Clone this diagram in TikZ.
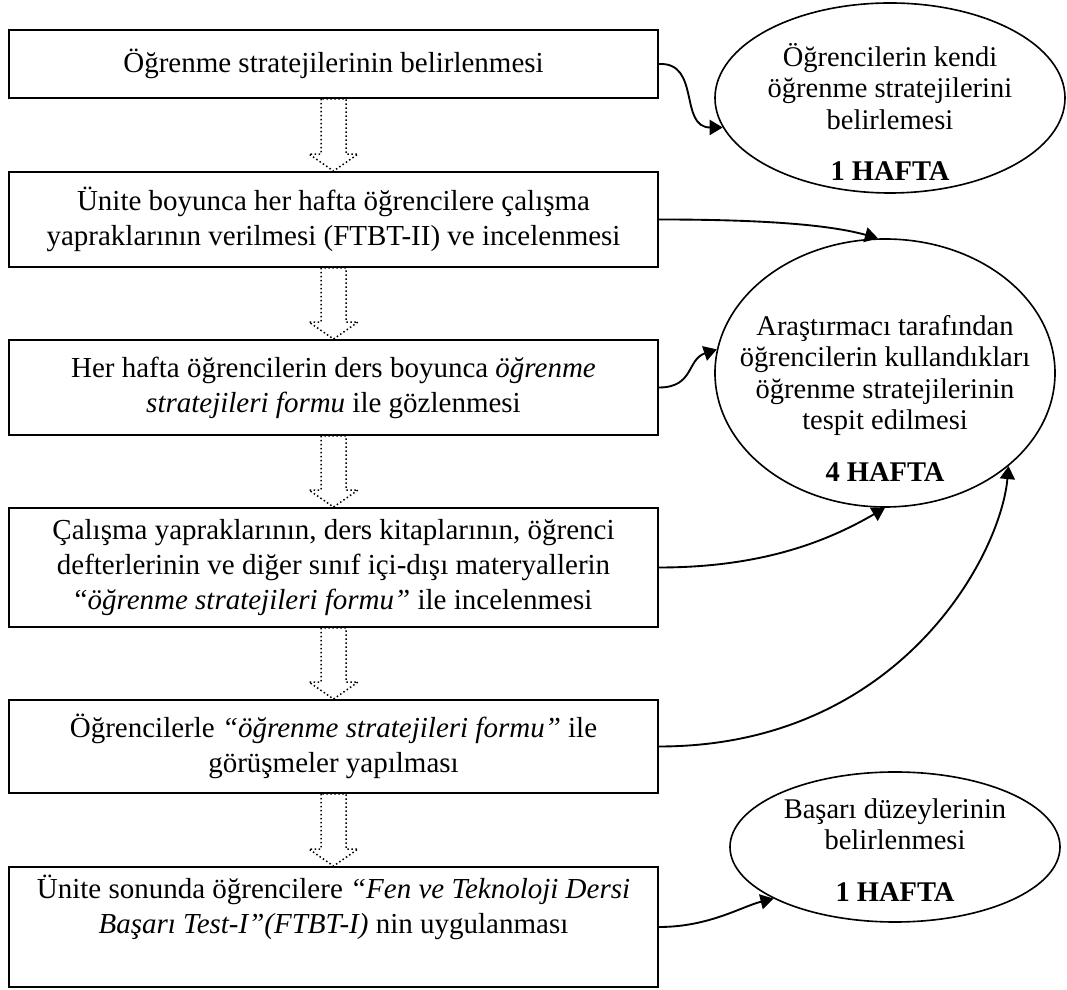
\documentclass[tikz,border=0pt]{standalone}
\usepackage{fontspec}
\setmainfont{Liberation Serif}
\usetikzlibrary{shapes.geometric,arrows.meta,calc}
\newcommand\dotblock[2]{%
  \draw[dotarrow] ($(#1.south)+(-12.5,0)$) -- ($(#2.north)+(-12.5,-17)$) -- ($(#2.north)+(-24.5,-17)$)
    -- (#2.north) -- ($(#2.north)+(24.5,-17)$) -- ($(#2.north)+(12.5,-17)$) -- ($(#1.south)+(12.5,0)$) -- cycle;}
\begin{document}
\begin{tikzpicture}[x=0.4pt,y=-0.4pt,
  box/.style={draw,line width=0.75pt,minimum width=259.6pt,inner sep=0pt,align=center,
    font=\fontsize{11.6pt}{14pt}\selectfont},
  ell/.style={draw,ellipse,line width=0.65pt,inner sep=0pt},
  etext/.style={align=center,inner sep=0pt,font=\fontsize{11.4pt}{12.6pt}\selectfont},
  conn/.style={line width=0.75pt,-{Triangle[length=5.2pt,width=6pt]}},
  dotarrow/.style={line width=0.6pt,dash pattern=on 0.6pt off 1pt}]
\useasboundingbox (0,0) rectangle (1067,990);
% boxes
\node[box,minimum height=27.2pt] (b1) at (333.5,64) {Öğrenme stratejilerinin belirlenmesi};
\node[box,minimum height=38pt] (b2) at (333.5,219.5) {Ünite boyunca her hafta öğrencilere çalışma\\yapraklarının verilmesi (FTBT-II) ve incelenmesi};
\node[box,minimum height=38pt] (b3) at (333.5,387.5) {Her hafta öğrencilerin ders boyunca \textit{öğrenme}\\\textit{stratejileri formu} ile gözlenmesi};
\node[box,minimum height=47.6pt] (b4) at (333.5,567.5) {Çalışma yapraklarının, ders kitaplarının, öğrenci\\defterlerinin ve diğer sınıf içi-dışı materyallerin\\“\textit{öğrenme stratejileri formu”} ile incelenmesi};
\node[box,minimum height=37.2pt] (b5) at (333.5,746.5) {Öğrencilerle \textit{“öğrenme stratejileri formu”} ile\\görüşmeler yapılması};
\node[box,minimum height=48pt] (b6) at (333.5,927) {Ünite sonunda öğrencilere \textit{“Fen ve Teknoloji Dersi}\\\textit{Başarı Test-I”(FTBT-I)} nin uygulanması\\\strut};
% dotted block arrows
\dotblock{b1}{b2}
\dotblock{b2}{b3}
\dotblock{b3}{b4}
\dotblock{b4}{b5}
\dotblock{b5}{b6}
% ellipses
\node[ell,minimum width=140pt,minimum height=76pt] (e1) at (890,98) {};
\node[etext] (e1t) at (890,112) {Öğrencilerin kendi\\öğrenme stratejilerini\\belirlemesi\\[8pt]\textbf{1 HAFTA}};
\node[ell,minimum width=136pt,minimum height=107.2pt] (e2) at (885,373) {};
\node[etext] (e2t) at (885,398) {Araştırmacı tarafından\\öğrencilerin kullandıkları\\öğrenme stratejilerinin\\tespit edilmesi\\[8pt]\textbf{4 HAFTA}};
\node[ell,minimum width=132pt,minimum height=60pt] (e3) at (895,847) {};
\node[etext] (e3t) at (895,850) {Başarı düzeylerinin\\belirlenmesi\\[8pt]\textbf{1 HAFTA}};
% connectors
\draw[conn] (b1.east) .. controls +(42,-2) and +(-44,0) .. (e1.190);
\draw[conn] (b2.east) .. controls +(100,0) and +(-50,-14) .. (e2.93);
\draw[conn] (b3.east) .. controls +(35,0) and +(-30,10) .. (e2.172);
\draw[conn] (b4.east) .. controls +(100,0) and +(-60,35) .. (e2.270);
\draw[conn] (b5.east) .. controls +(240,0) and +(-8,90) .. (e2.323);
\draw[conn] (b6.east) .. controls +(50,0) and +(-32,8) .. (e3.203);
\end{tikzpicture}
\end{document}
